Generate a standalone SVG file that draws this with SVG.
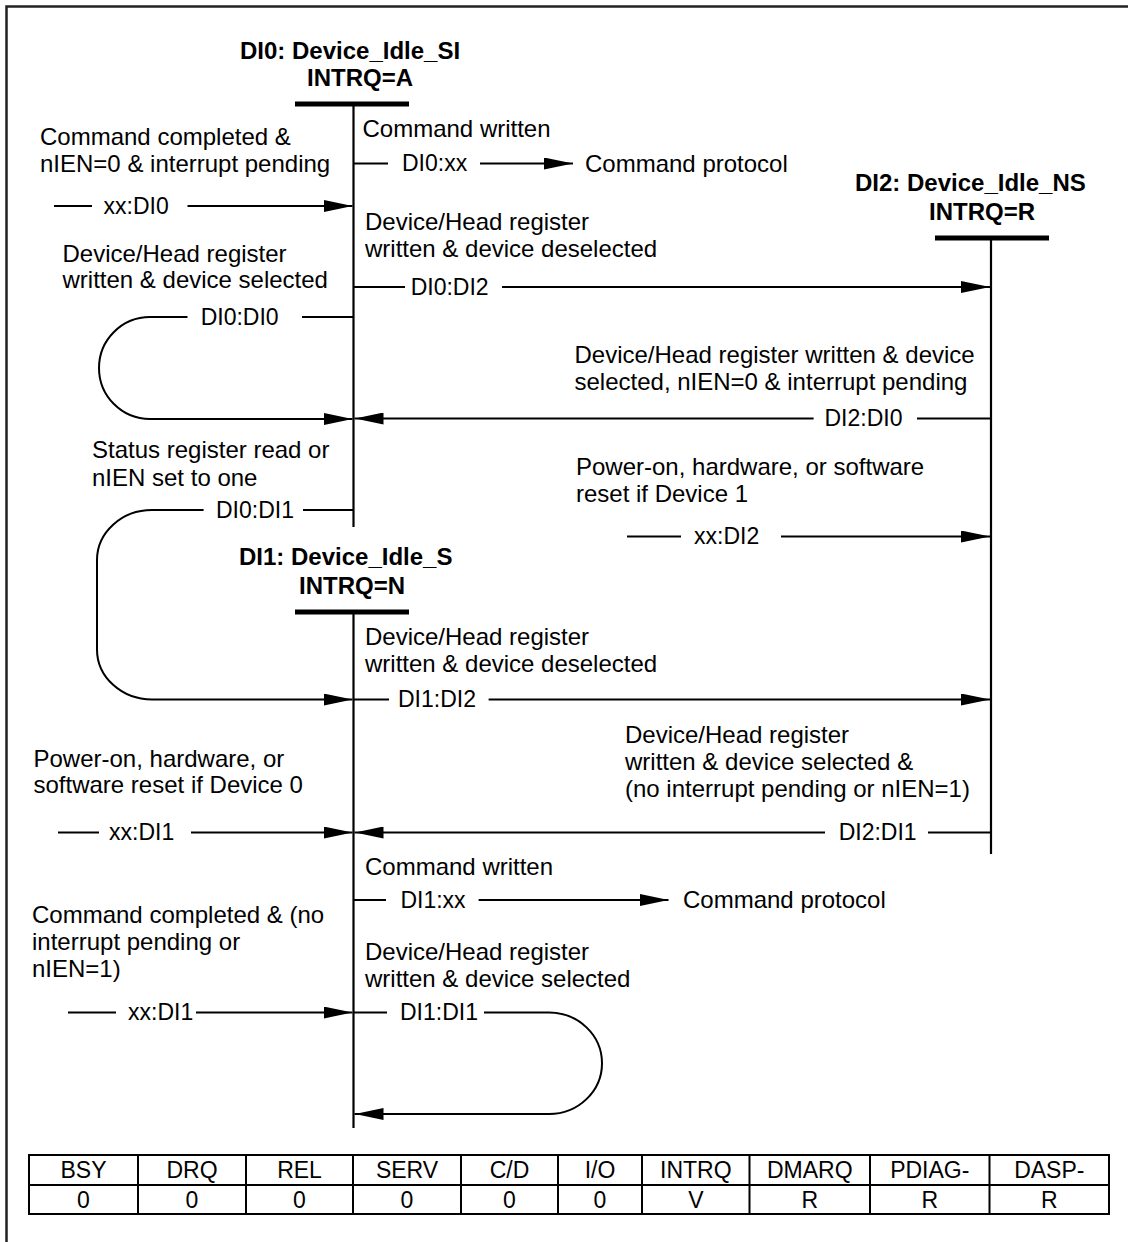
<svg xmlns="http://www.w3.org/2000/svg" width="1128" height="1242" viewBox="0 0 1128 1242">
<style>
text{font-family:"Liberation Sans",Arial,sans-serif;fill:#000}
.t{font-size:24px;font-weight:bold}
.d{font-size:24px}
.l{font-size:23px}
.c{fill:none;stroke:#000;stroke-width:2}
.a{fill:none;stroke:#000;stroke-width:2;marker-end:url(#arr)}
.bar{stroke:#000;stroke-width:5}
.v{stroke:#000;stroke-width:2.2}
.tb{fill:none;stroke:#000;stroke-width:2}
.tt{font-size:23px;text-anchor:middle}
</style>
<defs>
<marker id="arr" viewBox="0 0 29 12" markerWidth="29" markerHeight="12" refX="29" refY="6" markerUnits="userSpaceOnUse" orient="auto">
<path d="M0,0 L29,6 L0,12 z" fill="#000"/>
</marker>
</defs>
<rect x="0" y="0" width="1128" height="1242" fill="#fff"/>
<path d="M6.5,1242 V6.5 H1128" fill="none" stroke="#222" stroke-width="2.5"/>

<g id="DI0">
<text class="t" x="240" y="58.5">DI0: Device_Idle_SI</text>
<text class="t" x="307" y="86">INTRQ=A</text>
<line class="bar" x1="295" y1="104" x2="409" y2="104"/>
<line class="v" x1="353.5" y1="104" x2="353.5" y2="527"/>
</g>

<g id="DI1">
<text class="t" x="239" y="565">DI1: Device_Idle_S</text>
<text class="t" x="299" y="594">INTRQ=N</text>
<line class="bar" x1="295" y1="612" x2="409" y2="612"/>
<line class="v" x1="353.5" y1="612" x2="353.5" y2="1128"/>
</g>

<g id="DI2">
<text class="t" x="855" y="190.5">DI2: Device_Idle_NS</text>
<text class="t" x="929" y="220">INTRQ=R</text>
<line class="bar" x1="935" y1="238" x2="1049" y2="238"/>
<line class="v" x1="991" y1="238" x2="991" y2="854"/>
</g>

<g id="connectors">
<!-- DI0:xx -->
<path class="c" d="M353.5,163.5 H388"/>
<path class="a" d="M480,163.5 H573"/>
<text class="l" x="402" y="171">DI0:xx</text>
<text class="d" x="585" y="172">Command protocol</text>
<text class="d" x="362.5" y="136.7">Command written</text>
<!-- xx:DI0 -->
<path class="c" d="M54,206 H92"/>
<path class="a" d="M187.5,206 H352.5"/>
<text class="l" x="103.6" y="213.5">xx:DI0</text>
<text class="d" x="40" y="145">Command completed &amp;</text>
<text class="d" x="40" y="171.7">nIEN=0 &amp; interrupt pending</text>
<!-- DI0:DI2 -->
<path class="c" d="M353.5,287 H405"/>
<path class="a" d="M502,287 H990"/>
<text class="l" x="410.7" y="294.5">DI0:DI2</text>
<text class="d" x="365" y="230">Device/Head register</text>
<text class="d" x="365" y="256.7">written &amp; device deselected</text>
<!-- DI0:DI0 -->
<path class="c" d="M302,317 H353.5"/>
<path class="a" d="M187.5,317 H150 A51,51 0 0 0 150,419 H352.5"/>
<text class="l" x="200.7" y="324.5">DI0:DI0</text>
<text class="d" x="62.5" y="261.7">Device/Head register</text>
<text class="d" x="62.5" y="288.3">written &amp; device selected</text>
<!-- DI2:DI0 -->
<path class="c" d="M991,418.5 H917"/>
<path class="a" d="M813.6,418.5 H354.5"/>
<text class="l" x="824.5" y="426">DI2:DI0</text>
<text class="d" x="574.5" y="363">Device/Head register written &amp; device</text>
<text class="d" x="574.5" y="390">selected, nIEN=0 &amp; interrupt pending</text>
<!-- DI0:DI1 -->
<path class="c" d="M303,510 H353.5"/>
<path class="a" d="M203.6,510 H152 A55,50 0 0 0 97,560 V649.5 A55,50 0 0 0 152,699.5 H352.5"/>
<text class="l" x="216" y="517.5">DI0:DI1</text>
<text class="d" x="92" y="458">Status register read or</text>
<text class="d" x="92" y="486">nIEN set to one</text>
<!-- xx:DI2 -->
<path class="c" d="M627,536.5 H681"/>
<path class="a" d="M781,536.5 H990"/>
<text class="l" x="694" y="544">xx:DI2</text>
<text class="d" x="576" y="475">Power-on, hardware, or software</text>
<text class="d" x="576" y="501.7">reset if Device 1</text>
<!-- DI1:DI2 -->
<path class="c" d="M353.5,699.5 H389"/>
<path class="a" d="M488.6,699.5 H990"/>
<text class="l" x="398" y="707">DI1:DI2</text>
<text class="d" x="365" y="645">Device/Head register</text>
<text class="d" x="365" y="671.7">written &amp; device deselected</text>
<!-- xx:DI1 (reset) -->
<path class="c" d="M58,832.5 H99"/>
<path class="a" d="M191,832.5 H352.5"/>
<text class="l" x="109" y="840">xx:DI1</text>
<text class="d" x="33.5" y="766.7">Power-on, hardware, or</text>
<text class="d" x="33.5" y="793.3">software reset if Device 0</text>
<!-- DI2:DI1 -->
<path class="c" d="M991,832.5 H928"/>
<path class="a" d="M825,832.5 H354.5"/>
<text class="l" x="838.7" y="840">DI2:DI1</text>
<text class="d" x="625" y="743">Device/Head register</text>
<text class="d" x="625" y="770">written &amp; device selected &amp;</text>
<text class="d" x="625" y="796.7">(no interrupt pending or nIEN=1)</text>
<!-- DI1:xx -->
<path class="c" d="M353.5,900 H386"/>
<path class="a" d="M478.6,900 H668.5"/>
<text class="l" x="400.4" y="907.5">DI1:xx</text>
<text class="d" x="683" y="908">Command protocol</text>
<text class="d" x="365" y="875">Command written</text>
<!-- xx:DI1 (command completed) -->
<path class="c" d="M68,1012.5 H116"/>
<path class="a" d="M196,1012.5 H352.5"/>
<text class="l" x="128" y="1020">xx:DI1</text>
<text class="d" x="32" y="922.7">Command completed &amp; (no</text>
<text class="d" x="32" y="950">interrupt pending or</text>
<text class="d" x="32" y="976.7">nIEN=1)</text>
<!-- DI1:DI1 -->
<path class="c" d="M353.5,1012.5 H387"/>
<path class="a" d="M484,1012.5 H549 A53,50.75 0 0 1 549,1114 H354.5"/>
<text class="l" x="400" y="1020">DI1:DI1</text>
<text class="d" x="365" y="960">Device/Head register</text>
<text class="d" x="365" y="987.3">written &amp; device selected</text>
</g>

<g id="table">
<rect class="tb" x="29" y="1155" width="1080" height="59"/>
<path class="tb" d="M29,1185 H1109 M138,1155 V1214 M246,1155 V1214 M353,1155 V1214 M461,1155 V1214 M558,1155 V1214 M642,1155 V1214 M749.5,1155 V1214 M870,1155 V1214 M989.5,1155 V1214"/>
<text class="tt" x="83.5" y="1178">BSY</text>
<text class="tt" x="192" y="1178">DRQ</text>
<text class="tt" x="299.5" y="1178">REL</text>
<text class="tt" x="407" y="1178">SERV</text>
<text class="tt" x="509.5" y="1178">C/D</text>
<text class="tt" x="600" y="1178">I/O</text>
<text class="tt" x="695.8" y="1178">INTRQ</text>
<text class="tt" x="809.8" y="1178">DMARQ</text>
<text class="tt" x="929.8" y="1178">PDIAG-</text>
<text class="tt" x="1049.3" y="1178">DASP-</text>
<text class="tt" x="83.5" y="1208">0</text>
<text class="tt" x="192" y="1208">0</text>
<text class="tt" x="299.5" y="1208">0</text>
<text class="tt" x="407" y="1208">0</text>
<text class="tt" x="509.5" y="1208">0</text>
<text class="tt" x="600" y="1208">0</text>
<text class="tt" x="695.8" y="1208">V</text>
<text class="tt" x="809.8" y="1208">R</text>
<text class="tt" x="929.8" y="1208">R</text>
<text class="tt" x="1049.3" y="1208">R</text>
</g>
</svg>
